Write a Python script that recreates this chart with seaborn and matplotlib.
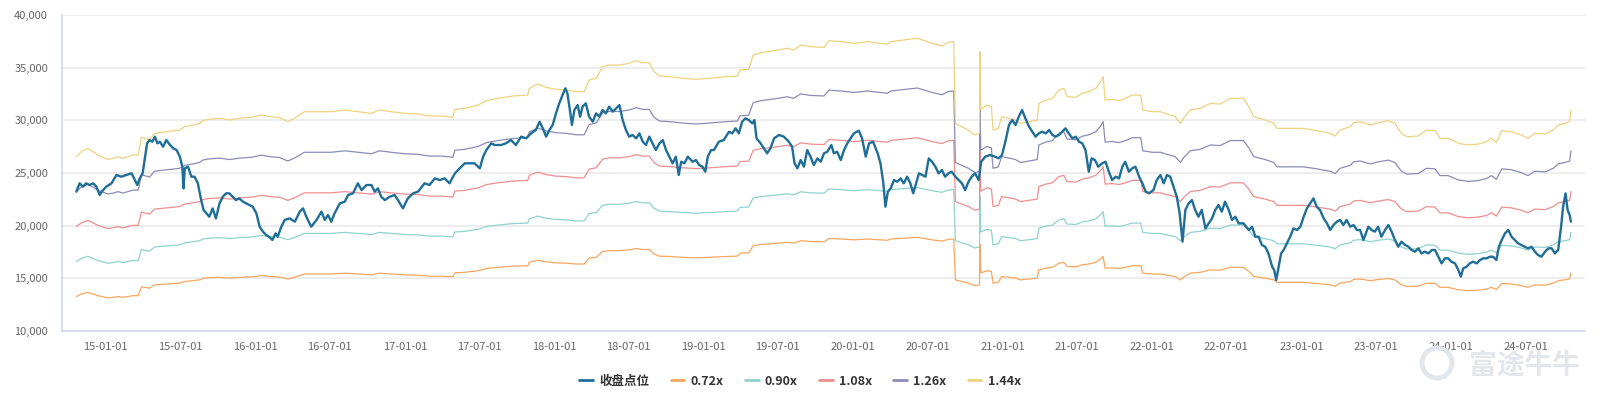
import matplotlib
matplotlib.use("Agg")
import matplotlib.pyplot as plt
import matplotlib.dates as mdates
from matplotlib.ticker import FuncFormatter, MultipleLocator
from matplotlib.lines import Line2D
from matplotlib.patches import Ellipse
import numpy as np
import pandas as pd
import seaborn as sns

# 收盘点位 (index close)
close_dates = [
    "2014-10-21", "2014-10-29", "2014-11-06", "2014-11-14", "2014-11-22", "2014-12-01", "2014-12-09", "2014-12-17", "2014-12-22",
    "2015-01-02", "2015-01-15", "2015-01-27", "2015-02-08", "2015-02-20", "2015-03-05", "2015-03-13", "2015-03-19", "2015-03-25",
    "2015-04-01", "2015-04-07", "2015-04-12", "2015-04-18", "2015-04-25", "2015-05-01", "2015-05-07", "2015-05-13", "2015-05-21",
    "2015-05-29", "2015-06-07", "2015-06-15", "2015-06-23", "2015-07-01", "2015-07-07", "2015-07-10", "2015-07-13", "2015-07-21",
    "2015-07-29", "2015-08-06", "2015-08-14", "2015-08-22", "2015-08-28", "2015-09-04", "2015-09-11", "2015-09-19", "2015-09-27",
    "2015-10-06", "2015-10-14", "2015-10-22", "2015-10-30", "2015-11-07", "2015-11-15", "2015-11-23", "2015-12-02", "2015-12-10",
    "2015-12-18", "2015-12-26",
    "2016-01-04", "2016-01-12", "2016-01-20", "2016-01-28", "2016-02-04", "2016-02-12", "2016-02-20", "2016-02-25", "2016-03-05",
    "2016-03-13", "2016-03-25", "2016-04-07", "2016-04-19", "2016-04-27", "2016-05-05", "2016-05-17", "2016-05-30", "2016-06-11",
    "2016-06-19", "2016-06-27", "2016-07-05", "2016-07-13", "2016-07-26", "2016-08-07", "2016-08-15", "2016-08-27", "2016-09-08",
    "2016-09-17", "2016-09-29", "2016-10-11", "2016-10-19", "2016-10-27", "2016-11-04", "2016-11-13", "2016-11-25", "2016-12-07",
    "2016-12-15", "2016-12-27",
    "2017-01-08", "2017-01-21", "2017-02-02", "2017-02-18", "2017-03-02", "2017-03-15", "2017-03-27", "2017-04-08", "2017-04-20",
    "2017-05-03", "2017-05-15", "2017-05-27", "2017-06-08", "2017-06-20", "2017-07-03", "2017-07-11", "2017-07-19", "2017-07-31",
    "2017-08-08", "2017-08-24", "2017-09-05", "2017-09-17", "2017-09-29", "2017-10-12", "2017-10-24", "2017-11-05", "2017-11-17",
    "2017-11-26", "2017-12-04", "2017-12-12", "2017-12-20", "2017-12-28",
    "2018-01-05", "2018-01-13", "2018-01-21", "2018-01-28", "2018-02-02", "2018-02-08", "2018-02-13", "2018-02-19", "2018-02-27",
    "2018-03-05", "2018-03-11", "2018-03-19", "2018-03-27", "2018-04-05", "2018-04-13", "2018-04-21", "2018-04-29", "2018-05-07",
    "2018-05-15", "2018-05-24", "2018-06-01", "2018-06-09", "2018-06-17", "2018-06-25", "2018-07-03", "2018-07-11", "2018-07-20",
    "2018-07-28", "2018-08-05", "2018-08-13", "2018-08-21", "2018-08-29", "2018-09-06", "2018-09-15", "2018-09-23", "2018-10-01",
    "2018-10-09", "2018-10-17", "2018-10-25", "2018-11-01", "2018-11-07", "2018-11-15", "2018-11-23", "2018-12-05", "2018-12-13",
    "2018-12-21", "2018-12-29",
    "2019-01-05", "2019-01-11", "2019-01-19", "2019-01-26", "2019-02-07", "2019-02-19", "2019-03-04", "2019-03-12", "2019-03-20",
    "2019-03-28", "2019-04-05", "2019-04-13", "2019-04-21", "2019-04-30", "2019-05-05", "2019-05-10", "2019-05-20", "2019-05-28",
    "2019-06-05", "2019-06-13", "2019-06-22", "2019-07-04", "2019-07-16", "2019-07-28", "2019-08-05", "2019-08-11", "2019-08-18",
    "2019-08-26", "2019-09-03", "2019-09-11", "2019-09-19", "2019-09-27", "2019-10-06", "2019-10-14", "2019-10-22", "2019-10-30",
    "2019-11-09", "2019-11-15", "2019-11-23", "2019-12-02", "2019-12-10", "2019-12-18", "2019-12-26",
    "2020-01-03", "2020-01-15", "2020-01-23", "2020-02-01", "2020-02-09", "2020-02-19", "2020-03-01", "2020-03-08", "2020-03-15",
    "2020-03-20", "2020-03-26", "2020-04-02", "2020-04-10", "2020-04-18", "2020-04-26", "2020-05-04", "2020-05-12", "2020-05-20",
    "2020-05-27", "2020-06-03", "2020-06-10", "2020-06-18", "2020-06-26", "2020-07-04", "2020-07-12", "2020-07-20", "2020-07-28",
    "2020-08-05", "2020-08-13", "2020-08-21", "2020-08-29", "2020-09-07", "2020-09-15", "2020-09-23", "2020-10-01", "2020-10-09",
    "2020-10-17", "2020-10-25", "2020-11-03", "2020-11-09", "2020-11-19", "2020-12-01", "2020-12-13", "2020-12-21", "2020-12-30",
    "2021-01-08", "2021-01-16", "2021-01-24", "2021-02-01", "2021-02-09", "2021-02-17", "2021-02-25", "2021-03-06", "2021-03-14",
    "2021-03-22", "2021-03-30", "2021-04-07", "2021-04-16", "2021-04-24", "2021-05-02", "2021-05-10", "2021-05-18", "2021-05-26",
    "2021-06-03", "2021-06-11", "2021-06-20", "2021-06-28", "2021-07-06", "2021-07-14", "2021-07-22", "2021-07-30", "2021-08-06",
    "2021-08-14", "2021-08-22", "2021-09-01", "2021-09-09", "2021-09-17", "2021-09-25", "2021-10-04", "2021-10-12", "2021-10-20",
    "2021-10-27", "2021-11-05", "2021-11-13", "2021-11-21", "2021-11-30", "2021-12-08", "2021-12-16", "2021-12-24",
    "2022-01-04", "2022-01-12", "2022-01-21", "2022-01-29", "2022-02-06", "2022-02-14", "2022-02-22", "2022-03-02", "2022-03-09",
    "2022-03-16", "2022-03-23", "2022-03-31", "2022-04-08", "2022-04-16", "2022-04-24", "2022-05-02", "2022-05-11", "2022-05-19",
    "2022-05-27", "2022-06-04", "2022-06-12", "2022-06-20", "2022-06-28", "2022-07-07", "2022-07-15", "2022-07-23", "2022-07-31",
    "2022-08-12", "2022-08-25", "2022-09-02", "2022-09-10", "2022-09-18", "2022-09-26", "2022-10-04", "2022-10-12", "2022-10-21",
    "2022-10-26", "2022-10-31", "2022-11-06", "2022-11-12", "2022-11-18", "2022-11-26", "2022-12-04", "2022-12-12", "2022-12-21",
    "2022-12-29",
    "2023-01-06", "2023-01-14", "2023-01-22", "2023-01-30", "2023-02-07", "2023-02-15", "2023-02-24", "2023-03-04", "2023-03-12",
    "2023-03-20", "2023-03-28", "2023-04-05", "2023-04-13", "2023-04-21", "2023-04-30", "2023-05-08", "2023-05-16", "2023-05-24",
    "2023-06-01", "2023-06-10", "2023-06-13", "2023-06-21", "2023-06-29", "2023-07-07", "2023-07-15", "2023-07-24", "2023-08-01",
    "2023-08-09", "2023-08-17", "2023-08-25", "2023-09-02", "2023-09-11", "2023-09-19", "2023-09-27", "2023-10-05", "2023-10-13",
    "2023-10-21", "2023-10-29", "2023-11-07", "2023-11-15", "2023-11-23", "2023-12-01", "2023-12-09", "2023-12-17", "2023-12-25",
    "2024-01-02", "2024-01-11", "2024-01-19", "2024-01-25", "2024-01-31", "2024-02-08", "2024-02-16", "2024-02-24", "2024-03-04",
    "2024-03-12", "2024-03-20", "2024-03-28", "2024-04-05", "2024-04-13", "2024-04-21", "2024-04-27", "2024-05-04", "2024-05-12",
    "2024-05-20", "2024-05-28", "2024-06-05", "2024-06-13", "2024-06-21", "2024-06-29", "2024-07-07", "2024-07-16", "2024-07-24",
    "2024-08-01", "2024-08-09", "2024-08-18", "2024-08-26", "2024-09-03", "2024-09-11", "2024-09-19", "2024-09-26", "2024-10-01",
    "2024-10-07", "2024-10-12", "2024-10-17", "2024-10-20",
]
close_vals = [
    23230, 24020, 23700, 24020, 23860, 24020, 23700, 22910, 23230,
    23700, 24020, 24810, 24650, 24810, 24970, 24330, 23860, 24490,
    24970, 26550, 27820, 28130, 27970, 28450, 27820, 27970, 27500,
    28130, 27660, 27340, 27180, 26550, 25600, 23540, 25440, 25600,
    24650, 24650, 24020, 22430, 21490, 21170, 20850, 21640, 20690,
    22120, 22750, 23070, 23070, 22750, 22430, 22590, 22280, 22120,
    21960, 21800,
    21170, 19900, 19430, 19110, 18950, 18640, 19270, 18950, 19900,
    20540, 20690, 20380, 21330, 21640, 20850, 19900, 20540, 21330,
    20540, 21010, 20380, 21170, 22120, 22280, 22910, 23070, 24020,
    23380, 23860, 23860, 23230, 23540, 22750, 22430, 22750, 22910,
    22430, 21640,
    22590, 23070, 23230, 24020, 23860, 24490, 24330, 24490, 24020,
    24970, 25440, 25920, 25920, 25920, 25440, 26550, 27180, 27820,
    27660, 27660, 27820, 28130, 27660, 28450, 28290, 28760, 29080,
    29870, 29240, 28450, 29080, 29560,
    30660, 31610, 32400, 33040, 32560, 30980, 29560, 30980, 31450,
    30350, 31300, 31610, 30350, 29870, 30660, 30350, 30980, 30660,
    31300, 30820, 31140, 31450, 30030, 29080, 28450, 28610, 28290,
    28760, 27970, 27660, 28450, 27820, 27180, 27820, 28130, 27180,
    26550, 25920, 26550, 24810, 26070, 25920, 26550, 26070, 26230,
    25760, 25600,
    25120, 26550, 27180, 27180, 27970, 28130, 28920, 28760, 29240,
    28760, 29870, 30190, 30030, 29710, 30030, 28290, 27820, 27340,
    26870, 27340, 28290, 28610, 28450, 27970, 27500, 25920, 25440,
    26230, 25600, 27180, 26550, 25760, 26390, 26070, 26870, 27020,
    27660, 26870, 27020, 26230, 27180, 27820, 28290,
    28760, 29020, 28290, 26550, 27820, 27970, 26870, 25920, 24020,
    21800, 23230, 23540, 24330, 24170, 24490, 24020, 24650, 24020,
    23070, 24020, 24970, 24810, 24650, 26390, 26070, 25600, 24970,
    25280, 24650, 24970, 25120, 24650, 24330, 24020, 23380, 24170,
    24650, 24970, 24330, 26070, 26550, 26710, 26550, 26390, 26710,
    28130, 29560, 30030, 29560, 30350, 30980, 30190, 29400, 28920,
    28450, 28760, 28920, 28760, 29080, 28610, 28450, 28610, 28920,
    29240, 28760, 28290, 28450, 27970, 27820, 27180, 25120, 26390,
    26230, 25600, 25920, 26070, 25120, 24330, 24650, 24490, 25600,
    26070, 25120, 25440, 25600, 24650, 24020, 23230, 23070,
    23380, 24330, 24810, 24020, 24810, 24650, 23700, 22750, 21170,
    18480, 21490, 22120, 22430, 21490, 20850, 21490, 19740, 20220,
    20690, 21490, 21960, 21330, 22280, 21490, 20540, 20850, 20220,
    20220, 19590, 19900, 18950, 18950, 18160, 18000, 17370, 16100,
    15790, 14840, 16100, 17370, 17690, 18320, 18950, 19740, 19590,
    19900,
    20850, 21640, 22120, 22590, 21800, 21490, 20690, 20220, 19590,
    20060, 20380, 20540, 20060, 20540, 19900, 20060, 19590, 19590,
    18640, 19590, 19900, 19590, 19430, 19900, 18950, 19590, 20060,
    19430, 18640, 18000, 18480, 18160, 18000, 17690, 17530, 17850,
    17370, 17530, 17370, 17690, 17690, 17050, 16420, 16900, 16900,
    16580, 16420, 15790, 15160, 15950, 16100, 16420, 16580, 16420,
    16740, 16900, 16900, 17050, 17050, 16740, 18000, 18640, 19270,
    19590, 18950, 18640, 18320, 18160, 18000, 17850, 18000, 17530,
    17210, 17050, 17530, 17850, 17850, 17370, 17690, 19900, 21800,
    23070, 21490, 21010, 20380,
]

# 1.44x band; the other bands are the same curve scaled
band_dates = [
    "2014-10-21", "2014-11-02", "2014-11-18", "2014-12-01", "2014-12-13", "2014-12-25",
    "2015-01-06", "2015-01-19", "2015-01-31", "2015-02-12", "2015-02-24", "2015-03-08", "2015-03-21", "2015-03-25",
    "2015-03-29", "2015-04-06", "2015-04-18", "2015-04-30", "2015-05-13", "2015-05-29", "2015-06-14", "2015-06-30",
    "2015-07-13", "2015-08-02", "2015-08-18", "2015-08-26", "2015-09-08", "2015-10-06", "2015-10-31", "2015-11-24",
    "2015-12-23",
    "2016-01-16", "2016-02-05", "2016-03-01", "2016-03-21", "2016-04-06", "2016-04-30", "2016-06-02", "2016-07-05",
    "2016-08-07", "2016-09-08", "2016-10-11", "2016-10-31", "2016-11-28",
    "2017-01-01", "2017-02-02", "2017-03-02", "2017-03-31", "2017-04-28", "2017-05-03", "2017-05-27", "2017-06-29",
    "2017-07-19", "2017-08-16", "2017-09-21", "2017-10-28", "2017-11-01", "2017-11-21", "2017-12-12",
    "2018-01-05", "2018-01-29", "2018-02-23", "2018-03-15", "2018-03-27", "2018-04-13", "2018-04-29", "2018-05-15",
    "2018-06-09", "2018-07-03", "2018-07-20", "2018-08-05", "2018-08-21", "2018-09-02", "2018-09-15", "2018-10-09",
    "2018-11-11", "2018-12-13",
    "2019-01-15", "2019-02-28", "2019-03-24", "2019-03-31", "2019-04-21", "2019-05-02", "2019-05-20", "2019-06-22",
    "2019-07-24", "2019-08-09", "2019-08-26", "2019-09-19", "2019-10-22", "2019-11-03", "2019-12-02",
    "2020-01-03", "2020-02-05", "2020-03-08", "2020-03-25", "2020-04-02", "2020-05-04", "2020-06-06", "2020-07-01",
    "2020-07-12", "2020-08-05", "2020-08-21", "2020-09-03", "2020-09-07", "2020-09-23", "2020-10-09", "2020-10-25",
    "2020-11-05", "2020-11-06", "2020-11-08", "2020-11-23", "2020-12-04", "2020-12-08", "2020-12-21", "2020-12-29",
    "2021-01-16", "2021-02-01", "2021-02-13", "2021-03-06", "2021-03-26", "2021-03-30", "2021-04-16", "2021-05-02",
    "2021-05-18", "2021-05-30", "2021-06-07", "2021-06-28", "2021-07-14", "2021-07-30", "2021-08-16", "2021-08-28",
    "2021-09-03", "2021-09-08", "2021-09-25", "2021-10-12", "2021-10-28", "2021-11-13", "2021-12-04", "2021-12-09",
    "2022-01-01", "2022-01-21", "2022-02-06", "2022-02-26", "2022-03-11", "2022-03-18", "2022-04-04", "2022-04-28",
    "2022-05-23", "2022-06-16", "2022-07-11", "2022-08-12", "2022-08-25", "2022-09-06", "2022-10-04", "2022-10-25",
    "2022-11-02", "2022-12-04",
    "2023-01-06", "2023-02-07", "2023-03-12", "2023-03-24", "2023-04-05", "2023-04-30", "2023-05-08", "2023-05-24",
    "2023-06-18", "2023-07-07", "2023-08-01", "2023-08-17", "2023-09-02", "2023-09-15", "2023-10-13", "2023-11-02",
    "2023-11-23", "2023-12-05", "2023-12-25",
    "2024-01-19", "2024-02-12", "2024-03-08", "2024-03-28", "2024-04-09", "2024-04-21", "2024-05-04", "2024-05-28",
    "2024-06-21", "2024-07-07", "2024-07-24", "2024-08-18", "2024-09-07", "2024-09-19", "2024-10-05", "2024-10-17",
    "2024-10-20",
]
band_144 = [
    26550, 27020, 27340, 27020, 26710, 26490,
    26300, 26390, 26550, 26390, 26550, 26710, 26710, 27500,
    28390, 28290, 28130, 28760, 28830, 28920, 28990, 29080,
    29400, 29560, 29710, 29970, 30090, 30190, 30030, 30190,
    30280,
    30510, 30350, 30250, 29870, 30190, 30820, 30820, 30820,
    30980, 30820, 30660, 30980, 30820,
    30660, 30600, 30410, 30410, 30280, 31040, 31140, 31450,
    31870, 32090, 32310, 32400, 33040, 33450, 33130,
    32940, 32880, 32720, 32720, 33830, 33990, 35090, 35250,
    35250, 35410, 35660, 35470, 35470, 34620, 34210, 34150,
    33990, 33890,
    33990, 34150, 34210, 34780, 34840, 36200, 36420, 36610,
    36840, 36680, 37150, 36990, 36930, 37560, 37470,
    37310, 37470, 37310, 37220, 37470, 37630, 37790, 37470,
    37310, 37060, 37410, 37470, 29710, 29400, 29080, 28610,
    28760, 36520, 31040, 31450, 31300, 29080, 29240, 30350,
    30190, 30030, 29710, 29870, 30030, 31610, 31930, 32090,
    32880, 33040, 32250, 32180, 32560, 32720, 33040, 33670,
    34150, 31930, 31990, 31870, 32090, 32400, 32400, 30980,
    30820, 30820, 30600, 30350, 29710, 30190, 30980, 31140,
    31610, 31550, 32090, 32090, 31300, 30350, 30030, 29710,
    29240, 29240,
    29240, 29020, 28760, 28510, 29080, 29400, 29780, 29870,
    29560, 29780, 29970, 29710, 28760, 28450, 28510, 29080,
    29020, 28290, 28290,
    27820, 27660, 27750, 27970, 28290, 27880, 29020, 28920,
    28610, 28290, 28760, 28700, 29080, 29560, 29710, 29870,
    30980,
]

multiples = [0.72, 0.90, 1.08, 1.26, 1.44]
band_labels = ["0.72x", "0.90x", "1.08x", "1.26x", "1.44x"]
band_colors = ["#f9a65f", "#8fd3cf", "#ef8e8e", "#8b8cb6", "#efd27f"]
main_label = "收盘点位"
main_color = "#1f6e98"
ytick_vals = [10000, 15000, 20000, 25000, 30000, 35000, 40000]

close_x = pd.to_datetime(close_dates)
band_x = pd.to_datetime(band_dates)
band_top = np.array(band_144, dtype=float)

sns.set_theme(style="white")
plt.rcParams["font.family"] = ["Noto Sans CJK SC", "DejaVu Sans"]

fig = plt.figure(figsize=(16, 4), dpi=100)
ax = fig.add_axes([0.03875, 0.1725, 0.952, 0.79])

for m, lab, col in zip(multiples, band_labels, band_colors):
    sns.lineplot(x=band_x, y=band_top / 1.44 * m, ax=ax, color=col, lw=0.9,
                 estimator=None, zorder=2)

sns.lineplot(x=close_x, y=close_vals, ax=ax, color=main_color, lw=1.7,
             estimator=None, zorder=5)

ax.set_xlim(pd.Timestamp("2014-09-16"), pd.Timestamp("2024-11-24"))
ax.set_ylim(10000, 40000)
ax.set_yticks(ytick_vals)
ax.yaxis.set_major_formatter(FuncFormatter(lambda v, p: f"{v:,.0f}"))
ax.xaxis.set_major_locator(mdates.MonthLocator(bymonth=[1, 7]))
ax.xaxis.set_major_formatter(mdates.DateFormatter("%y-%m-%d"))
ax.set_xlabel("")
ax.set_ylabel("")

ax.grid(axis="y", color="#e8e8e8", lw=1.1)
ax.grid(axis="x", visible=False)
for s in ["top", "right"]:
    ax.spines[s].set_visible(False)
for s in ["left", "bottom"]:
    ax.spines[s].set_color("#ccd6eb")
    ax.spines[s].set_linewidth(1.1)

ax.tick_params(axis="x", length=5, width=1, color="#ccd6eb", labelsize=8,
               labelcolor="#666666", pad=3)
ax.tick_params(axis="y", length=0, labelsize=8, labelcolor="#666666", pad=10)

handles = [Line2D([0], [0], color=main_color, lw=2)]
handles += [Line2D([0], [0], color=c, lw=2) for c in band_colors]
labels = [main_label] + band_labels
leg = fig.legend(handles, labels, loc="center", bbox_to_anchor=(0.5, 0.047),
                 ncol=6, frameon=False, handlelength=1.1, handletextpad=0.5,
                 columnspacing=1.7, prop={"size": 9, "weight": "bold"})
for t in leg.get_texts():
    t.set_color("#333333")

# watermark
fig.text(0.9875, 0.085, "富途牛牛", ha="right", va="center", fontsize=20,
         color="#e3e7ec", fontweight="bold")
fig.patches.append(Ellipse((1437 / 1600, 1 - 363 / 400), 30 / 1600, 30 / 400,
                           transform=fig.transFigure, fill=False, lw=3.5,
                           ec="#e3e7ec"))

fig.savefig("out.png", dpi=100)
